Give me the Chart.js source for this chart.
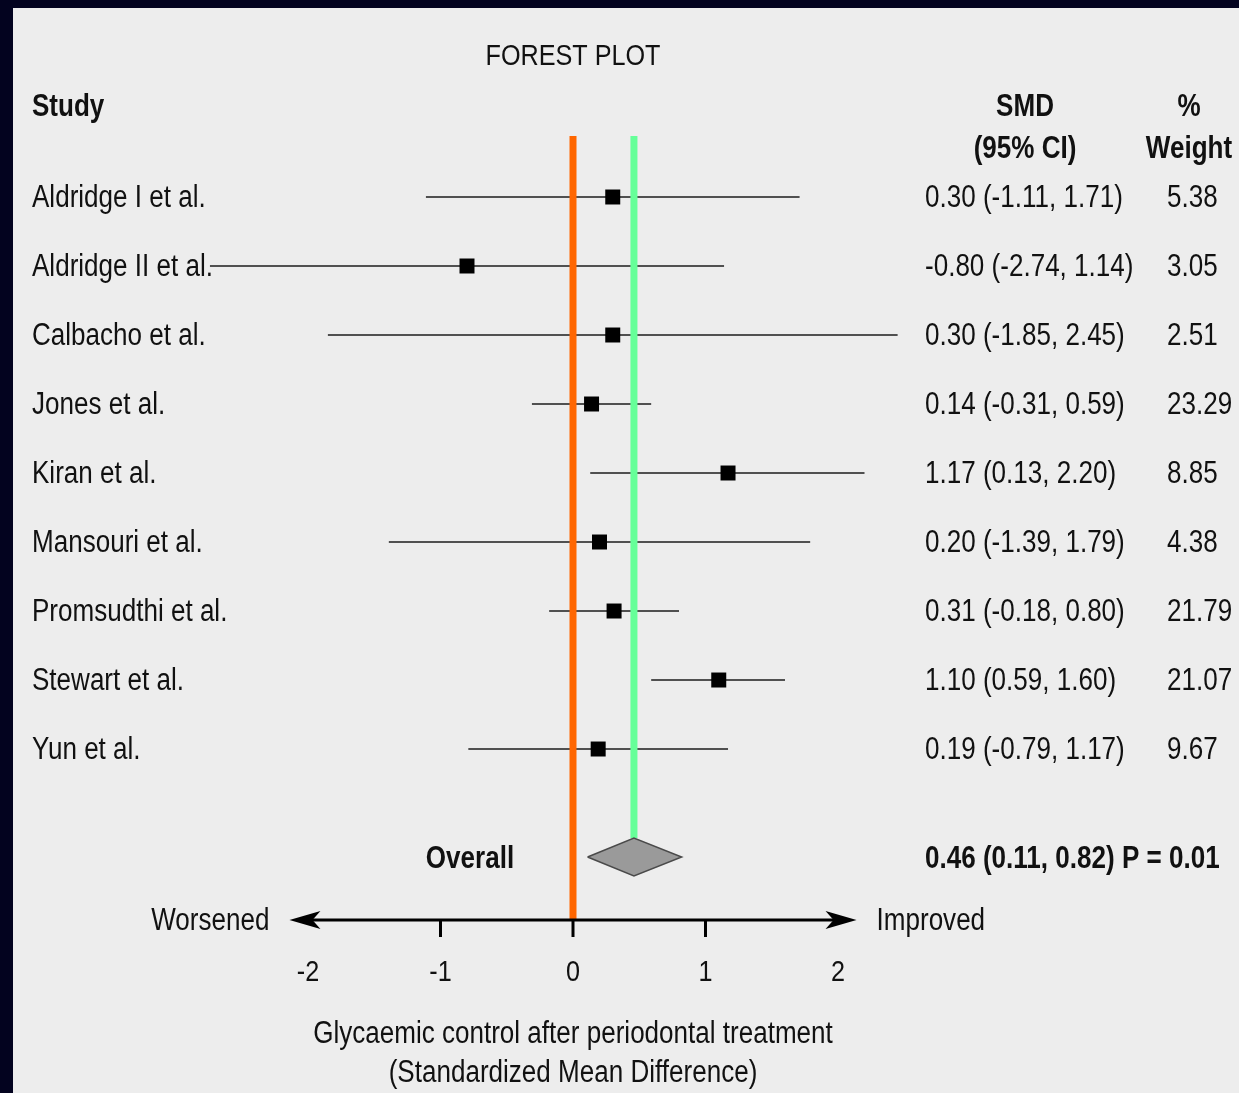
<!DOCTYPE html>
<html>
<head>
<meta charset="utf-8">
<title>Forest plot – glycaemic control after periodontal treatment</title>
<script src="https://cdn.jsdelivr.net/npm/chart.js@4/dist/chart.umd.min.js"></script>
<style>
  html, body { margin: 0; padding: 0; background: #03031f; }
  canvas { display: block; }
</style>
</head>
<body>
<canvas id="forest" width="1239" height="1093"></canvas>
<script>
// ---- study data ----
const studies = [
  'Aldridge I et al.', 'Aldridge II et al.', 'Calbacho et al.', 'Jones et al.',
  'Kiran et al.', 'Mansouri et al.', 'Promsudthi et al.', 'Stewart et al.', 'Yun et al.'
];
const smd     = [0.30, -0.80, 0.30, 0.14, 1.17, 0.20, 0.31, 1.10, 0.19];
const ciLow   = [-1.11, -2.74, -1.85, -0.31, 0.13, -1.39, -0.18, 0.59, -0.79];
const ciHigh  = [1.71, 1.14, 2.45, 0.59, 2.20, 1.79, 0.80, 1.60, 1.17];
const weights = [5.38, 3.05, 2.51, 23.29, 8.85, 4.38, 21.79, 21.07, 9.67];

// pooled estimate
const overallSmd  = 0.46;
const overallLow  = 0.11;
const overallHigh = 0.82;
const overallP    = 0.01;

// axis
const xTicks = [-2, -1, 0, 1, 2];

// ---- layout constants ----
const FONT = '"Liberation Sans", Arial, sans-serif';
const NARROW = 0.84;                   // horizontal squeeze for a condensed look
const TEXT_DY = 2;                     // optical baseline nudge for 'middle' text
const TEXT = '#111111';
const Y_MIN = -0.884, Y_MAX = 10.478;   // row units; row i sits at y = i
const OVERALL_ROW = 9.565;
const DIAMOND_HALF = 0.275;
const ARROW_EXTENT = 2.14;

const fmt = v => v.toFixed(2);

// confidence-interval whiskers, one dataset per study
const whiskerSets = studies.map((s, i) => ({
  label: s + ' CI',
  data: [{ x: ciLow[i], y: i }, { x: ciHigh[i], y: i }],
  showLine: true,
  borderColor: '#505050',
  borderWidth: 2.2,
  pointRadius: 0,
  order: 4
}));

const datasets = [
  {
    label: 'SMD',
    data: smd.map((v, i) => ({ x: v, y: i })),
    pointStyle: 'rect',
    pointRadius: 10.6,
    backgroundColor: '#000000',
    borderColor: '#000000',
    borderWidth: 0,
    order: 0
  },
  {
    label: 'Overall',
    data: [
      { x: overallLow,  y: OVERALL_ROW },
      { x: overallSmd,  y: OVERALL_ROW - DIAMOND_HALF },
      { x: overallHigh, y: OVERALL_ROW },
      { x: overallSmd,  y: OVERALL_ROW + DIAMOND_HALF },
      { x: overallLow,  y: OVERALL_ROW }
    ],
    showLine: true,
    fill: 'shape',
    backgroundColor: '#9a9a9a',
    borderColor: '#4a4a4a',
    borderWidth: 1.5,
    pointRadius: 0,
    order: 1
  },
  {
    label: 'No effect',
    data: [{ x: 0, y: Y_MIN }, { x: 0, y: Y_MAX }],
    showLine: true,
    borderColor: '#ff6600',
    borderWidth: 7,
    pointRadius: 0,
    order: 2
  },
  {
    label: 'Pooled SMD',
    data: [{ x: overallSmd, y: Y_MIN }, { x: overallSmd, y: OVERALL_ROW - DIAMOND_HALF }],
    showLine: true,
    borderColor: '#66ff99',
    borderWidth: 7,
    pointRadius: 0,
    order: 3
  },
  ...whiskerSets
];

// panel background with the dark frame on the top and left edges
const panelBackground = {
  id: 'panelBackground',
  beforeDraw(chart) {
    const { ctx, width, height } = chart;
    ctx.save();
    ctx.fillStyle = '#03031f';
    ctx.fillRect(0, 0, width, height);
    ctx.fillStyle = '#ededed';
    ctx.fillRect(13, 8, width - 13, height - 8);
    ctx.restore();
  }
};

// table text, arrowed axis, ticks and axis titles
const forestDecor = {
  id: 'forestDecor',
  afterDraw(chart) {
    const { ctx, chartArea } = chart;
    const xs = chart.scales.x, ys = chart.scales.y;
    const px = v => xs.getPixelForValue(v);
    const py = v => ys.getPixelForValue(v);
    const axisY = chartArea.bottom;
    const zeroX = px(0);

    ctx.save();
    ctx.textBaseline = 'middle';

    const text = (s, x, y, align, bold, size) => {
      ctx.save();
      ctx.translate(x, y + TEXT_DY);
      ctx.scale(NARROW, 1);
      ctx.fillStyle = TEXT;
      ctx.font = (bold ? 'bold ' : '') + (size || 31) + 'px ' + FONT;
      ctx.textAlign = align;
      ctx.fillText(s, 0, 0);
      ctx.restore();
    };

    // headers
    text('FOREST PLOT', zeroX, 55, 'center', false, 30);
    text('Study', 32, 105, 'left', true);
    text('SMD', 1025, 105, 'center', true);
    text('(95% CI)', 1025, 147, 'center', true);
    text('%', 1189, 105, 'center', true);
    text('Weight', 1189, 147, 'center', true);

    // study rows
    studies.forEach((s, i) => {
      const y = py(i) - 1;
      text(s, 32, y, 'left', false);
      text(fmt(smd[i]) + ' (' + fmt(ciLow[i]) + ', ' + fmt(ciHigh[i]) + ')', 925, y, 'left', false);
      text(fmt(weights[i]), 1167, y, 'left', false);
    });

    // pooled row
    const oy = py(OVERALL_ROW);
    text('Overall', 470, oy, 'center', true);
    text(fmt(overallSmd) + ' (' + fmt(overallLow) + ', ' + fmt(overallHigh) + ') P = ' + fmt(overallP),
         925, oy, 'left', true);

    // arrowed axis line
    const left = px(-ARROW_EXTENT), right = px(ARROW_EXTENT);
    ctx.strokeStyle = '#000';
    ctx.lineWidth = 3;
    ctx.beginPath();
    ctx.moveTo(left + 10, axisY);
    ctx.lineTo(right - 10, axisY);
    ctx.stroke();
    const arrow = (tipX, dir) => {
      ctx.beginPath();
      ctx.moveTo(tipX, axisY);
      ctx.lineTo(tipX + dir * 31, axisY - 9);
      ctx.lineTo(tipX + dir * 23, axisY);
      ctx.lineTo(tipX + dir * 31, axisY + 9);
      ctx.closePath();
      ctx.fillStyle = '#000';
      ctx.fill();
    };
    arrow(left, 1);
    arrow(right, -1);

    // tick marks (inner ticks only; the ends carry the arrows) and labels
    const tMin = Math.min(...xTicks), tMax = Math.max(...xTicks);
    ctx.lineWidth = 3;
    xTicks.forEach(t => {
      const x = px(t);
      if (t > tMin && t < tMax) {
        ctx.beginPath();
        ctx.moveTo(x, axisY);
        ctx.lineTo(x, axisY + 17);
        ctx.stroke();
      }
      text(String(t), x, axisY + 51, 'center', false, 30);
    });

    // direction labels
    text('Worsened', left - 20, axisY - 1, 'right', false);
    text('Improved', right + 20, axisY - 1, 'left', false);

    // axis title
    text('Glycaemic control after periodontal treatment', zeroX, axisY + 112, 'center', false);
    text('(Standardized Mean Difference)', zeroX, axisY + 151, 'center', false);

    ctx.restore();
  }
};

new Chart(document.getElementById('forest'), {
  type: 'scatter',
  data: { datasets },
  options: {
    responsive: false,
    devicePixelRatio: 1,
    animation: false,
    events: [],
    layout: { padding: { left: 175.5, right: 268.5, top: 136, bottom: 173 } },
    scales: {
      x: { type: 'linear', min: -3, max: 3, display: false },
      y: { type: 'linear', min: Y_MIN, max: Y_MAX, reverse: true, display: false }
    },
    elements: { line: { tension: 0, borderCapStyle: 'butt' } },
    clip: false,
    plugins: {
      legend: { display: false },
      tooltip: { enabled: false },
      title: { display: false }
    }
  },
  plugins: [panelBackground, forestDecor]
});
</script>
</body>
</html>
